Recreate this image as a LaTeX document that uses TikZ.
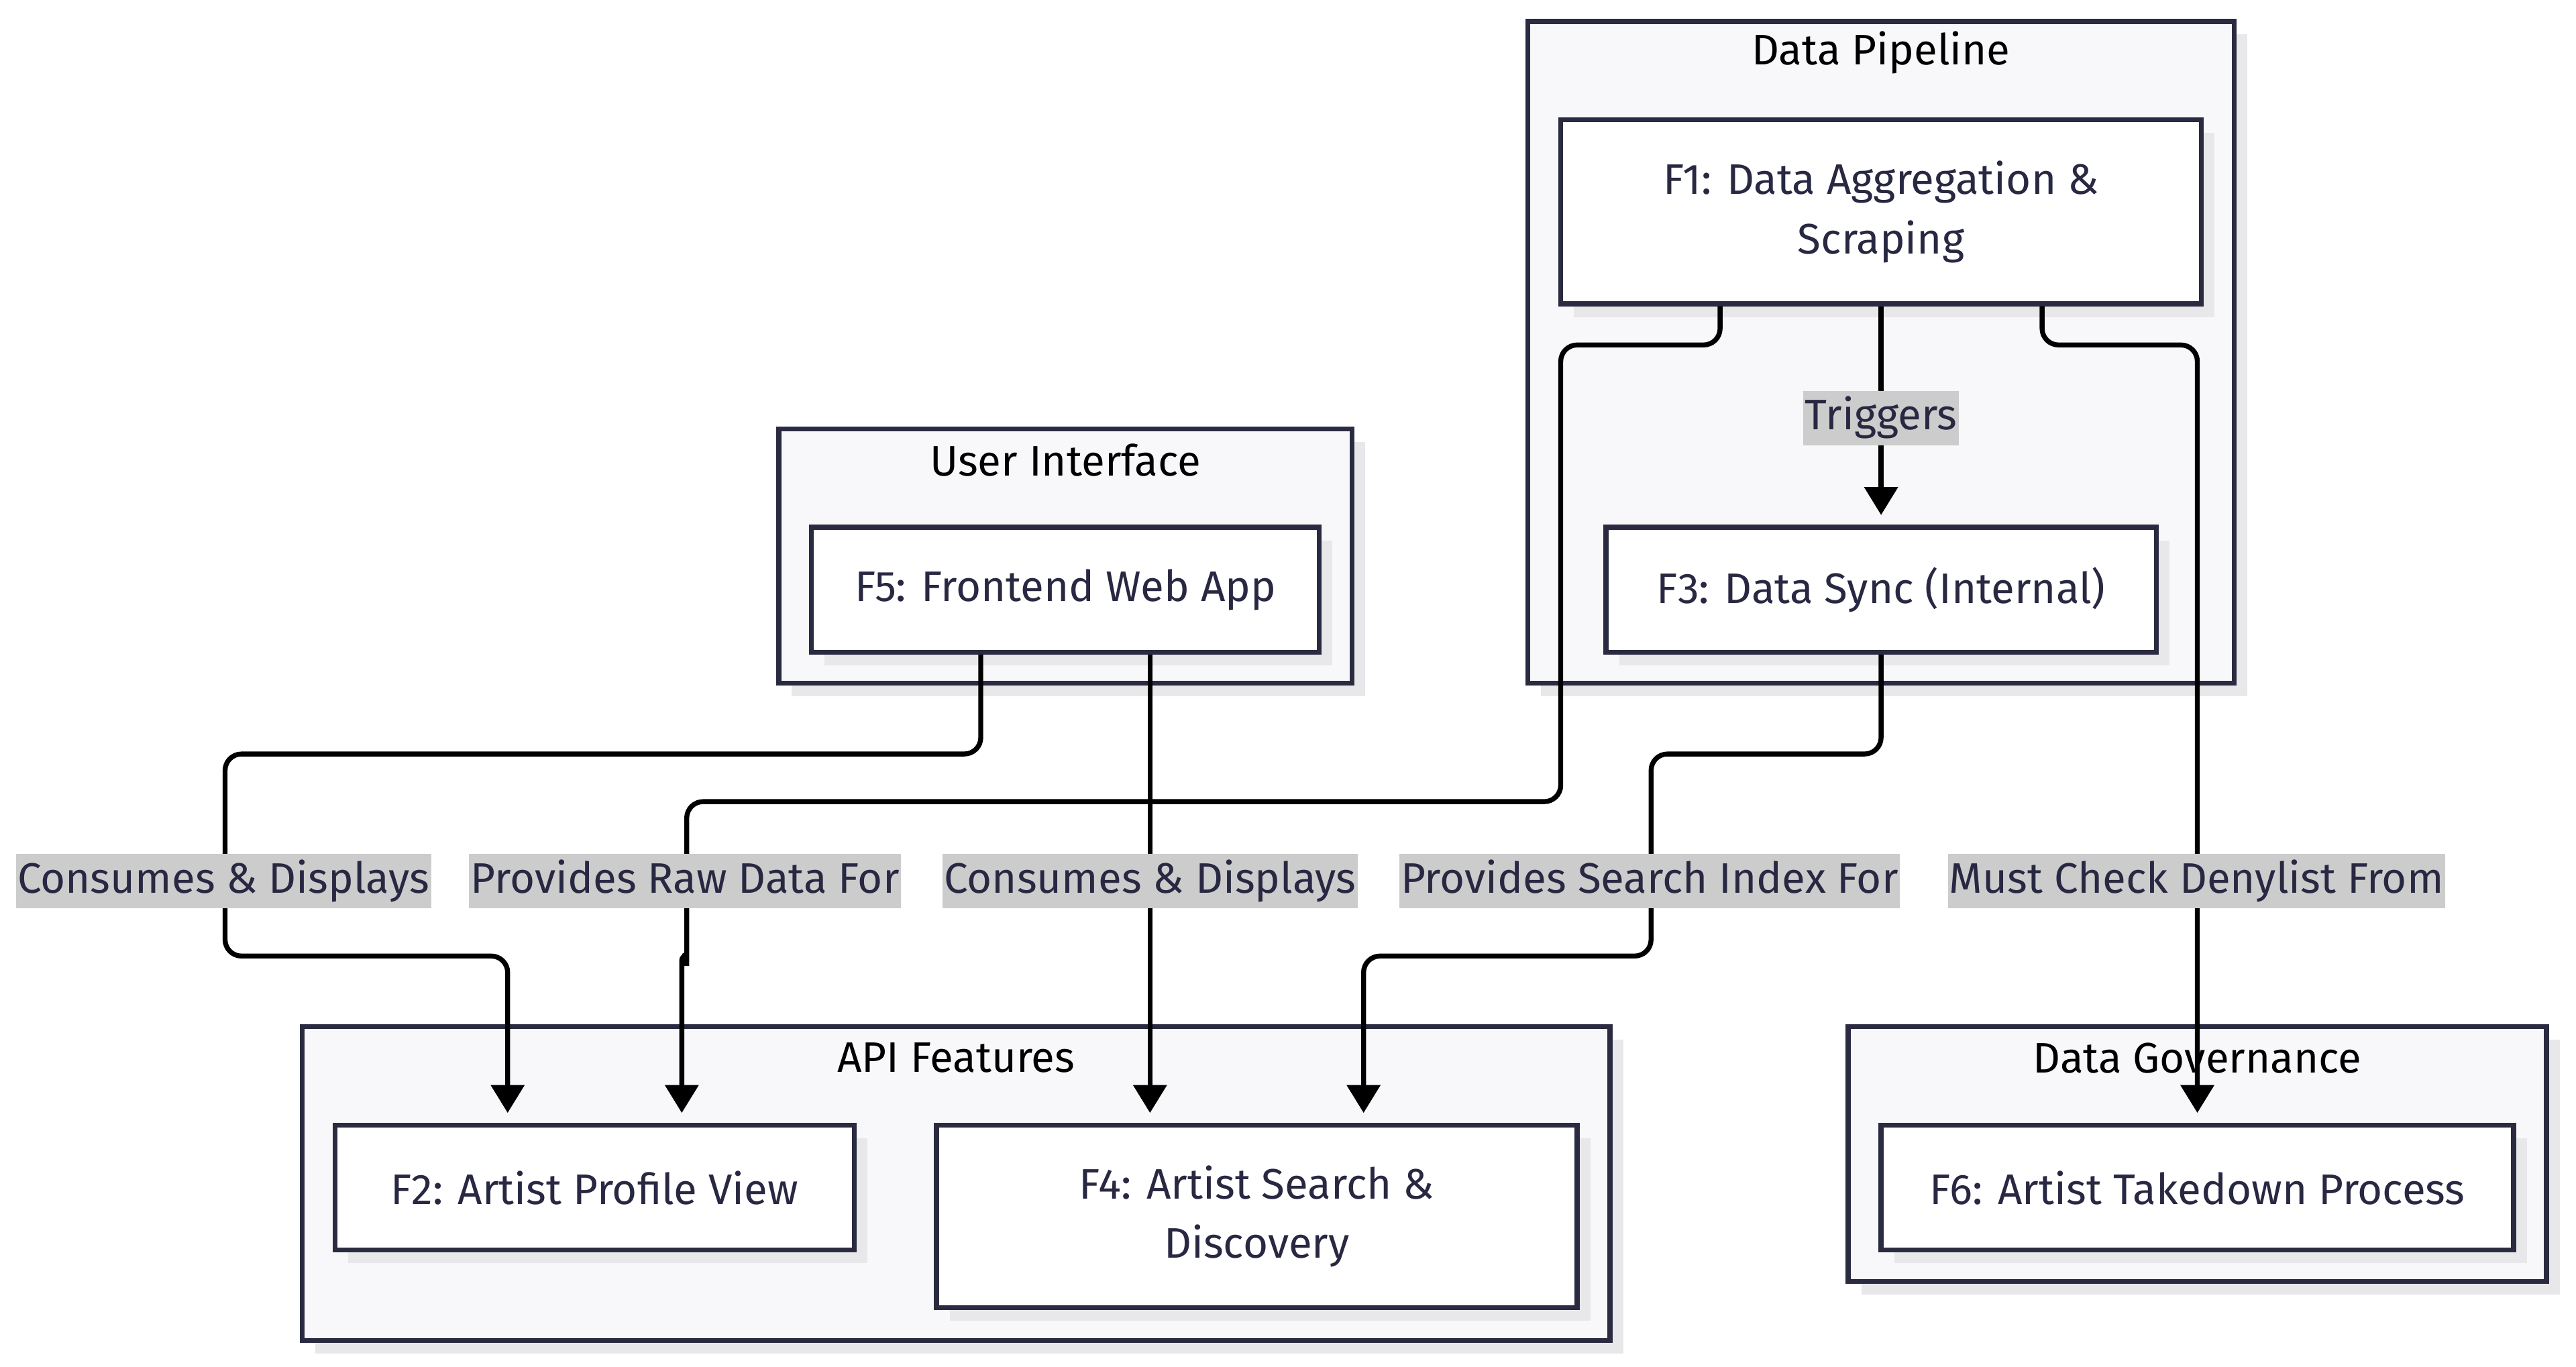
\documentclass[tikz,border=0pt]{standalone}
\usepackage{fontspec}
\setmainfont{Fira Sans}
\usetikzlibrary{arrows.meta,shadows}
\definecolor{navy}{RGB}{42,42,64}
\definecolor{txt}{RGB}{40,40,66}
\definecolor{clfill}{RGB}{248,248,250}
\definecolor{shadowc}{RGB}{232,232,235}
\definecolor{lblfill}{RGB}{204,204,204}
\tikzset{
  cluster/.style={draw=navy,line width=3pt,fill=clfill,inner sep=0pt,
    drop shadow={shadow xshift=8pt,shadow yshift=-8pt,fill=shadowc,opacity=1}},
  cltitle/.style={text=black,font=\fontsize{26}{36}\selectfont,inner sep=0pt},
  feat/.style={draw=navy,line width=3pt,fill=white,text=txt,align=center,
    font=\fontsize{26}{36}\selectfont,inner sep=0pt,
    drop shadow={shadow xshift=8pt,shadow yshift=-8pt,fill=shadowc,opacity=1}},
  edge/.style={draw=black,line width=3pt,rounded corners=10pt,
    -{Triangle[length=17pt,width=20pt]}},
  elabel/.style={fill=lblfill,text=txt,font=\fontsize{26}{36}\selectfont,
    inner xsep=1pt,inner ysep=0pt,text height=23.5pt,text depth=9.5pt}
}
\begin{document}
\begin{tikzpicture}[x=1pt,y=-1pt]
\useasboundingbox (0,0) rectangle (1568,831.8);
% clusters
\node[cluster,minimum width=430pt,minimum height=403pt] (dp) at (1145,214.5) {};
\node[cltitle] (dpt) at (1145,32) {Data Pipeline};
\node[cluster,minimum width=349pt,minimum height=155pt] (ui) at (648.5,338.5) {};
\node[cltitle] (uit) at (648.5,280) {User Interface};
\node[cluster,minimum width=796pt,minimum height=191pt] (api) at (582,720.5) {};
\node[cltitle] (apit) at (582,644) {API Features};
\node[cluster,minimum width=425pt,minimum height=155pt] (gov) at (1337.5,702.5) {};
\node[cltitle] (govt) at (1337.5,644) {Data Governance};
% features
\node[feat,minimum width=390pt,minimum height=112pt] (f1) at (1145,129) {F1: Data Aggregation \&\\Scraping};
\node[feat,minimum width=335pt,minimum height=76pt] (f3) at (1145,359) {F3: Data Sync (Internal)};
\node[feat,minimum width=309pt,minimum height=76pt] (f5) at (648.5,359) {F5: Frontend Web App};
\node[feat,minimum width=316pt,minimum height=76pt] (f2) at (362,723) {F2: Artist Profile View};
\node[feat,minimum width=390pt,minimum height=111pt] (f4) at (765,740.5) {F4: Artist Search \&\\Discovery};
\node[feat,minimum width=385pt,minimum height=76pt] (f6) at (1337.5,723) {F6: Artist Takedown Process};
% edges
\draw[edge] (f1.south) -- ([yshift=6pt]f3.north);
\draw[edge] ([xshift=-51.5pt]f5.south) |- (137,459) |- (309,582) -- ([xshift=-53pt,yshift=6pt]f2.north);
\draw[edge] ([xshift=-98pt]f1.south) |- (950,210) |- (418,488) -- (418,578) [rounded corners=2.5pt] -- (418,582) -- (415,582) -- (415,590) -- ([xshift=53pt,yshift=6pt]f2.north);
\draw[edge] ([xshift=51.5pt]f5.south) -- ([xshift=-65pt,yshift=6pt]f4.north);
\draw[edge] (f3.south) |- (1005,459) |- (830,582) -- ([xshift=65pt,yshift=6pt]f4.north);
\draw[edge] ([xshift=98pt]f1.south) |- (1337.5,210) -- ([yshift=6pt]f6.north);
% labels
\node[elabel] (l0) at (1145,254.5) {Triggers};
\node[elabel] (l1) at (136,536.5) {Consumes \& Displays};
\node[elabel] (l2) at (417,536.5) {Provides Raw Data For};
\node[elabel] (l3) at (700,536.5) {Consumes \& Displays};
\node[elabel] (l4) at (1004,536.5) {Provides Search Index For};
\node[elabel] (l5) at (1337,536.5) {Must Check Denylist From};
\end{tikzpicture}
\end{document}
